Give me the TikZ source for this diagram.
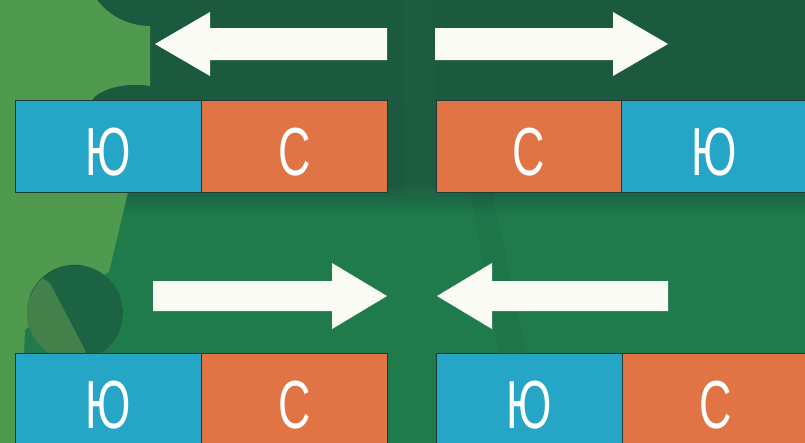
\documentclass[tikz,border=0pt]{standalone}
\usepackage{fontspec}
\setmainfont{Liberation Sans}
\definecolor{bgdark}{HTML}{1B5A3F}
\definecolor{bgmid}{HTML}{1F7A4C}
\definecolor{leaf}{HTML}{4F9A4F}
\definecolor{holedark}{HTML}{1B6342}
\definecolor{holeolive}{HTML}{43804A}
\definecolor{southcol}{HTML}{25A6C7}
\definecolor{northcol}{HTML}{E07444}
\definecolor{poleline}{HTML}{1E3B33}
\definecolor{arrowfill}{HTML}{FBFBF6}
\begin{document}
\begin{tikzpicture}[x=1pt,y=-1pt,
  pole/.style={draw=poleline, line width=1.2pt, anchor=north west,
    minimum height=92pt, inner sep=0pt, text=white,
    text height=57pt, text depth=0pt,
    font=\fontsize{68}{68}\selectfont},
  south/.style={pole, fill=southcol},
  north/.style={pole, fill=northcol},
  fatarrow/.style={fill=arrowfill}]
\useasboundingbox (0,0) rectangle (805,442);
\newcommand\poletext[1]{\scalebox{0.66}[1]{#1}}

% background: dark upper field fading into the lighter lower field
\fill[bgmid] (-5,-5) rectangle (810,447);
\fill[bgdark] (-5,-5) rectangle (810,185);
\shade[top color=bgdark, bottom color=bgmid] (-5,184) rectangle (810,215);
% faint streaks in the felt
\fill[black, opacity=0.04] (470,190) -- (492,190) -- (545,447) -- (515,447) -- cycle;
\fill[white, opacity=0.015] (402,-5) -- (432,-5) -- (438,195) -- (406,195) -- cycle;

% light green leaf on the left edge
\fill[leaf] (-5,-5) -- (95,-5) -- (97,0) .. controls (110,17) and (130,26) .. (150,26)
  -- (150,86) .. controls (128,82) and (100,88) .. (92,100)
  -- (92,192) -- (128,192) -- (109,272) -- (60,300) -- (25,330)
  -- (20,447) -- (-5,447) -- cycle;
% round hole in the leaf
\begin{scope}
  \clip (75,313) circle (48);
  \fill[holedark] (75,313) circle (48);
  \fill[holeolive] (0,250) -- (50,283) -- (85,350) -- (85,400) -- (0,400) -- cycle;
\end{scope}
\draw[poleline, opacity=0.35, line width=1pt] (75,313) ++(200:48) arc[start angle=200, end angle=280, radius=48];

% arrows
\fill[fatarrow] (387,28) -- (210,28) -- (210,12) -- (155,44) -- (210,76) -- (210,60) -- (387,60) -- cycle;
\fill[fatarrow] (435,28) -- (613,28) -- (613,12) -- (668,44) -- (613,76) -- (613,60) -- (435,60) -- cycle;
\fill[fatarrow] (153,281) -- (332,281) -- (332,263) -- (387,296) -- (332,329) -- (332,311) -- (153,311) -- cycle;
\fill[fatarrow] (668,281) -- (492,281) -- (492,263) -- (437,296) -- (492,329) -- (492,311) -- (668,311) -- cycle;

% magnets
\node[south, minimum width=186pt] (m1s) at (15,100) {\poletext{Ю}};
\node[north, minimum width=186pt] (m1n) at (201,100) {\poletext{С}};
\node[north, minimum width=185pt] (m2n) at (436,100) {\poletext{С}};
\node[south, minimum width=186pt] (m2s) at (621,100) {\poletext{Ю}};
\node[south, minimum width=186pt] (m3s) at (15,353) {\poletext{Ю}};
\node[north, minimum width=186pt] (m3n) at (201,353) {\poletext{С}};
\node[south, minimum width=186pt] (m4s) at (436,353) {\poletext{Ю}};
\node[north, minimum width=186pt] (m4n) at (622,353) {\poletext{С}};
\end{tikzpicture}
\end{document}
